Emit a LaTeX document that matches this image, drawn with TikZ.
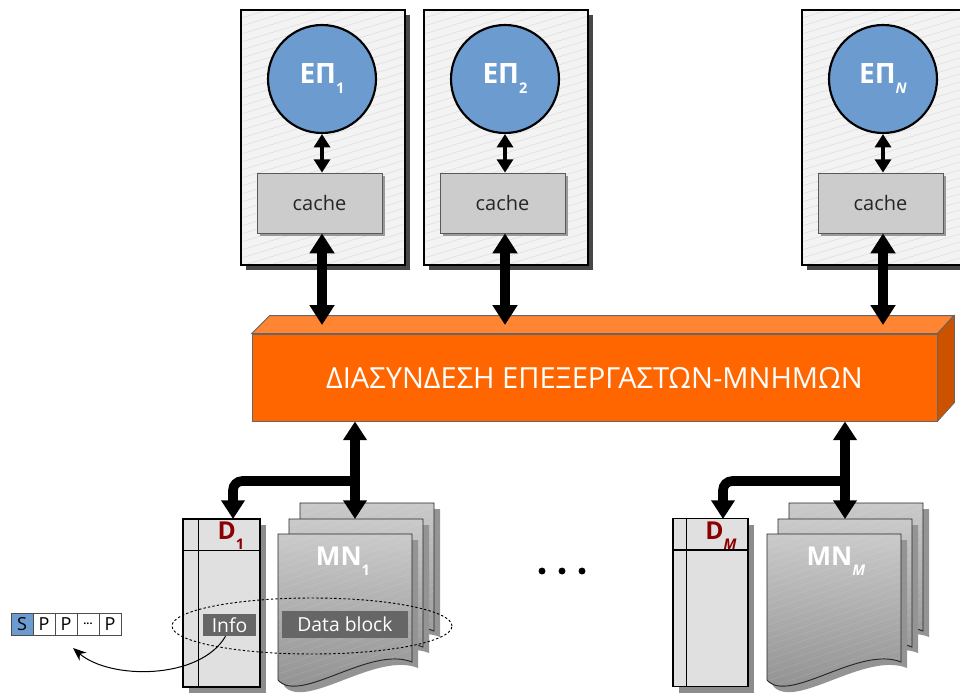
\documentclass[tikz,border=0pt]{standalone}
\usepackage{fontspec}
\setmainfont{Open Sans}
\usetikzlibrary{arrows.meta,shapes.geometric,shadows}
\definecolor{procblue}{HTML}{6C9BD0}
\definecolor{framefill}{HTML}{F3F3F3}
\definecolor{hatchc}{HTML}{DCDCDC}
\definecolor{cachefill}{HTML}{CCCCCC}
\definecolor{orfront}{HTML}{FF6600}
\definecolor{ortop}{HTML}{FF8533}
\definecolor{orside}{HTML}{CC5200}
\definecolor{dfill}{HTML}{E0E0E0}
\definecolor{dred}{HTML}{8B0000}
\definecolor{pgtop}{HTML}{CACACA}
\definecolor{pgbot}{HTML}{8C8C8C}
\definecolor{blockfill}{HTML}{666666}
\newcommand\mysub[1]{\raisebox{-7.5pt}{\fontsize{11}{11}\selectfont #1}}
\newcommand\myframe[1]{%
  \fill[black!72] (#1+5,15) rectangle (#1+169,270);
  \fill[framefill] (#1,10) rectangle (#1+164,265);
  \begin{scope}
    \clip (#1,10) rectangle (#1+164,265);
    \foreach \k in {0,...,40} \draw[hatchc, line width=0.4pt] (#1,10+\k*8) -- ++(164,-50);
  \end{scope}
  \draw[line width=1.1pt] (#1,10) rectangle (#1+164,265);
}
\tikzset{
  proc/.style={circle, draw=black, line width=1.6pt, fill=procblue, minimum size=81pt, inner sep=0pt, text=white, font=\fontsize{21}{21}\selectfont\bfseries},
  cachebox/.style={draw=black!65, line width=0.6pt, fill=cachefill, minimum width=93.75pt, minimum height=45pt, inner sep=0pt, text=black!85, font=\fontsize{15}{15}\selectfont, drop shadow={shadow xshift=2.5pt, shadow yshift=-2.5pt, fill=black!40, opacity=1}},
  smallarr/.style={line width=3.4pt, {Triangle[width=12pt,length=10pt]}-{Triangle[width=12pt,length=10pt]}},
  bigarr/.style={line width=6.8pt, {Triangle[width=18pt,length=15pt]}-{Triangle[width=18pt,length=15pt]}},
  botarr/.style={line width=7.2pt, -{Triangle[width=17pt,length=14pt]}},
  botarrboth/.style={line width=7.2pt, {Triangle[width=17pt,length=14pt]}-{Triangle[width=17pt,length=14pt]}},
  busfront/.style={fill=orfront, draw=black!60, line width=0.6pt, minimum width=513.75pt, minimum height=65.25pt, inner sep=0pt, text=white, font=\fontsize{21.8}{22}\selectfont},
  busedge/.style={draw=black!60, line width=0.6pt},
  dbox/.style={draw=black, line width=1.1pt, fill=dfill, minimum height=126pt, inner sep=0pt, drop shadow={shadow xshift=4.5pt, shadow yshift=-4.5pt, fill=black!45, opacity=1}},
  dline/.style={draw=black, line width=1.1pt},
  dlabel/.style={text=dred, font=\fontsize{18.5}{18.5}\selectfont\bfseries, inner sep=0pt},
  mnlabel/.style={text=white, font=\fontsize{19.5}{19.5}\selectfont\bfseries, inner sep=0pt},
  darkbox/.style={fill=blockfill, text=white, inner sep=0pt, font=\fontsize{14.5}{14.5}\selectfont},
  selring/.style={ellipse, draw=black, line width=0.7pt, dash pattern=on 1.8pt off 1.6pt, minimum width=210pt, minimum height=42pt, inner sep=0pt},
  cell/.style={draw=black!70, line width=0.6pt, minimum size=16.5pt, inner sep=0pt, fill=white, font=\fontsize{13.5}{13.5}\selectfont},
  mnpage/.pic={
    \fill[black!42] (6,6) -- (140,6) -- (140,134) .. controls (98,117) and (28,177) .. (6,152) -- cycle;
    \path[top color=pgtop, bottom color=pgbot] (0,0) -- (134,0) -- (134,128) .. controls (92,111) and (22,171) .. (0,146) -- cycle;
    \begin{scope}
      \clip (0,0) -- (134,0) -- (134,128) .. controls (92,111) and (22,171) .. (0,146) -- cycle;
      \foreach \k in {0,...,30} \draw[white, opacity=0.12, line width=0.4pt] (0,\k*7) -- ++(134,-45);
    \end{scope}
    \draw[black!85, line width=0.7pt] (0,0) -- (134,0) -- (134,128) .. controls (92,111) and (22,171) .. (0,146) -- cycle;
  }
}
\begin{document}
\begin{tikzpicture}[x=0.75pt,y=-0.75pt]
\useasboundingbox (0,0) rectangle (960,693);
\clip (0,0) rectangle (960,693);

% processor frames
\myframe{241}
\myframe{424}
\myframe{802}

% processors and caches
\node[proc] (p1) at (322,79) {ΕΠ\mysub{1}};
\node[proc] (p2) at (505,79) {ΕΠ\mysub{2}};
\node[proc] (p3) at (883,79) {ΕΠ\mysub{\itshape N}};
\node[cachebox] (c1) at (319.5,203) {cache};
\node[cachebox] (c2) at (502.5,203) {cache};
\node[cachebox] (c3) at (880.5,203) {cache};
\draw[smallarr] (p1.south) -- (p1.south |- c1.north);
\draw[smallarr] (p2.south) -- (p2.south |- c2.north);
\draw[smallarr] (p3.south) -- (p3.south |- c3.north);

% interconnect bar
\node[busfront] (bus) at (594.5,377.5) {ΔΙΑΣΥΝΔΕΣΗ ΕΠΕΞΕΡΓΑΣΤΩΝ-ΜΝΗΜΩΝ};
\draw[busedge, fill=ortop] (bus.north west) -- ++(18,-18) -- ++(684,0) -- (bus.north east) -- cycle;
\draw[busedge, fill=orside] (bus.north east) -- ++(17,-18) -- ++(0,87) -- (bus.south east) -- cycle;

\coordinate (b1) at (322,325);
\coordinate (b2) at (505,325);
\coordinate (b3) at (883,325);
\draw[bigarr] (p1 |- c1.south) -- (b1);
\draw[bigarr] (p2 |- c2.south) -- (b2);
\draw[bigarr] (p3 |- c3.south) -- (b3);

% directories
\node[dbox, minimum width=57.75pt] (d1) at (221.5,603) {};
\draw[dline] ([xshift=12pt]d1.north west) -- ([xshift=12pt]d1.south west);
\draw[dline] ([yshift=-24pt]d1.north west) -- ([yshift=-24pt]d1.north east);
\node[dbox, minimum width=56.25pt] (dM) at (710.5,602.5) {};
\draw[dline] ([xshift=10.5pt]dM.north west) -- ([xshift=10.5pt]dM.south west);
\draw[dline] ([yshift=-24pt]dM.north west) -- ([yshift=-24pt]dM.north east);
\node[dlabel] (d1lab) at (231,536) {D\mysub{1}};
\node[dlabel] (dMlab) at (721,536) {D\mysub{\itshape M}};

% memory pages
\pic at (300,503) {mnpage};
\pic at (289,519) {mnpage};
\pic at (278,534) {mnpage};
\pic at (789,503) {mnpage};
\pic at (778,519) {mnpage};
\pic at (767,534) {mnpage};
\node[mnlabel] (mn1) at (343,561) {MN\mysub{1}};
\node[mnlabel] (mnM) at (836,561) {MN\mysub{\itshape M}};

% bottom connectors
\coordinate (j1) at (355,481);
\coordinate (mn1in) at (355,519);
\coordinate (d1in) at (233,519);
\coordinate (jM) at (845,481);
\coordinate (mnMin) at (845,519);
\coordinate (dMin) at (723,519);
\draw[botarrboth] (bus.south -| j1) -- (mn1in);
\draw[botarr, rounded corners=7pt] (j1) -| (d1in);
\draw[botarrboth] (bus.south -| jM) -- (mnMin);
\draw[botarr, rounded corners=7pt] (jM) -| (dMin);

% selection
\node[selring] (sel) at (312,626) {};
\node[darkbox, minimum width=39.75pt, minimum height=16.5pt] (info) at (229.5,625) {Info};
\node[darkbox, minimum width=94.5pt, minimum height=20.25pt] (blk) at (345,624.5) {Data block};

% S P P ... P
\node[cell, fill=procblue] (s0) at (22,624) {S};
\node[cell] (s1) at (44,624) {P};
\node[cell] (s2) at (66,624) {P};
\node[cell] (s3) at (88,624) {\bfseries\fontsize{8}{8}\selectfont ...};
\node[cell] (s4) at (110,624) {P};
\coordinate (sppin) at (73,648);
\draw[line width=0.75pt, -{Stealth[length=10pt,width=8pt]}] ([xshift=-3pt]info.south) .. controls (200,680) and (110,680) .. (sppin);

% dots
\fill (542,571) circle[radius=2.6pt];
\fill (562,571) circle[radius=2.6pt];
\fill (582,571) circle[radius=2.6pt];
\end{tikzpicture}
\end{document}
